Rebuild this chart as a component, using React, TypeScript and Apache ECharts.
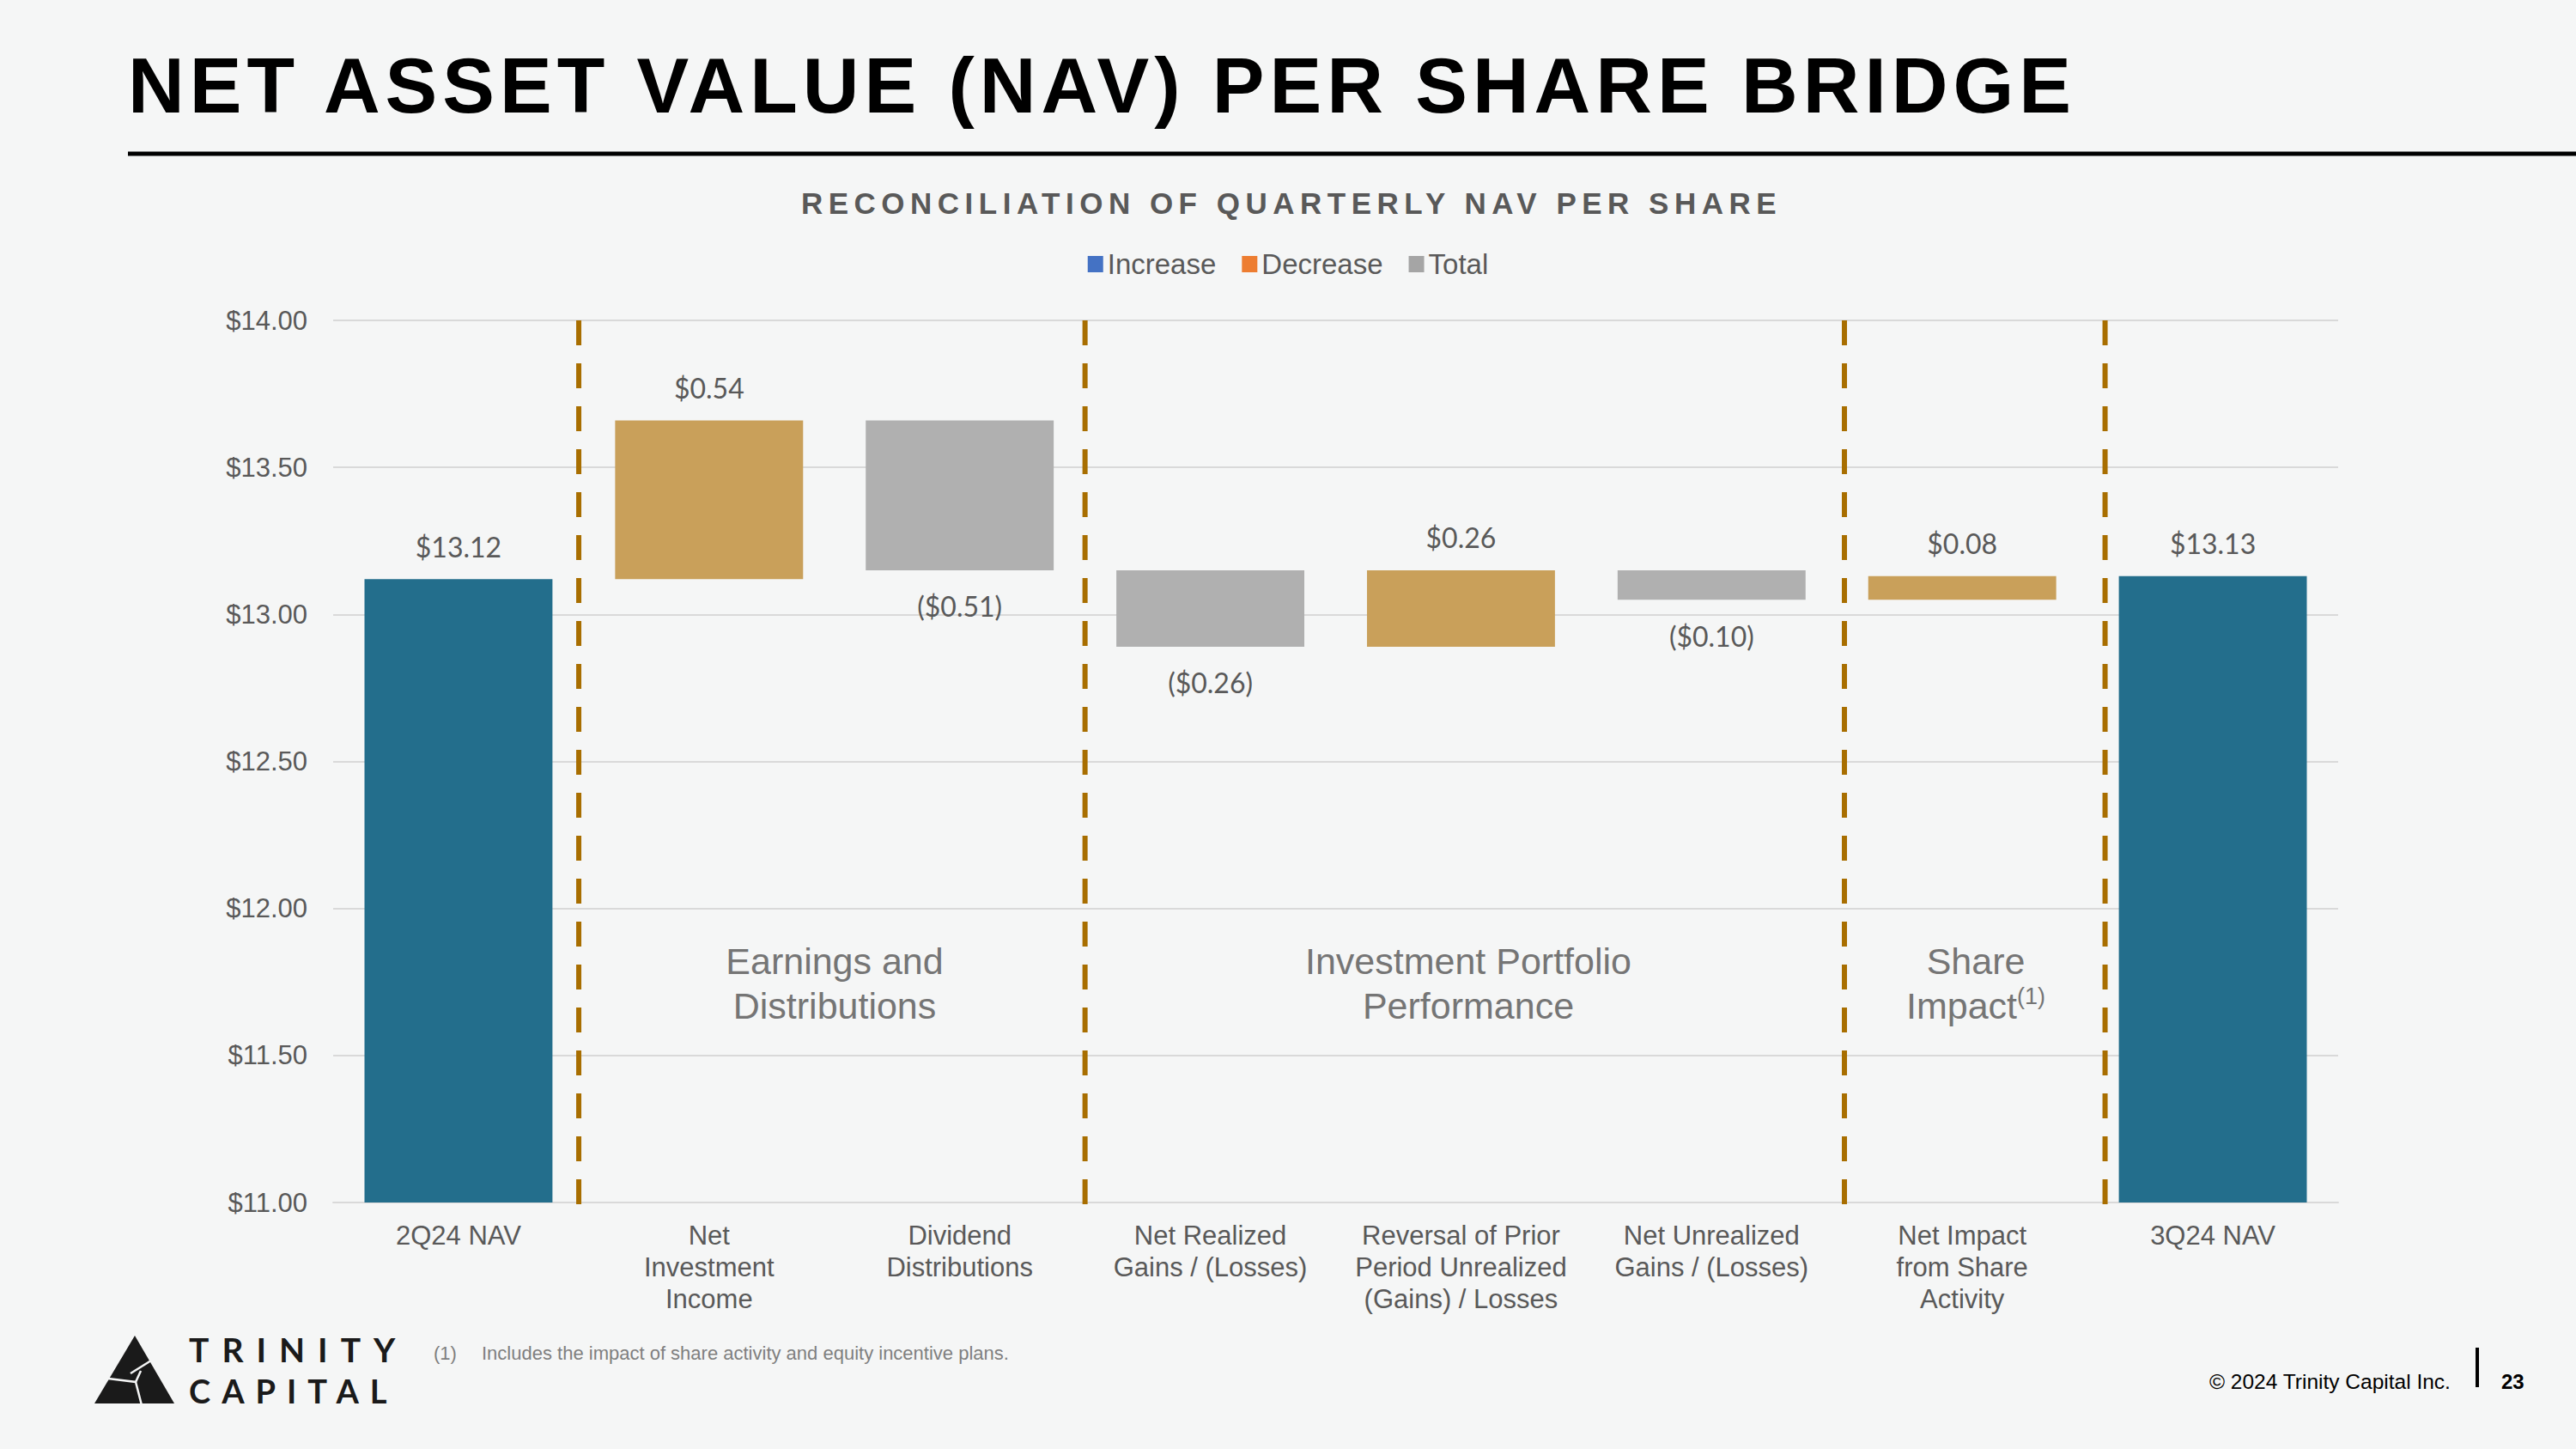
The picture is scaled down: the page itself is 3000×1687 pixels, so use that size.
import React, { useEffect, useRef } from 'react';
import * as echarts from 'echarts';

// ---------- data ----------
const categories = [
  '2Q24 NAV',
  'Net\nInvestment\nIncome',
  'Dividend\nDistributions',
  'Net Realized\nGains / (Losses)',
  'Reversal of Prior\nPeriod Unrealized\n(Gains) / Losses',
  'Net Unrealized\nGains / (Losses)',
  'Net Impact\nfrom Share\nActivity',
  '3Q24 NAV',
];
const startNav = 13.12;
const endNav = 13.13;
const changes = [0.54, -0.51, -0.26, 0.26, -0.1, 0.08];
const yMin = 11;
const yMax = 14;
const yInterval = 0.5;
const legendNames = ['Increase', 'Decrease', 'Total'];
const legendColors = ['#4472C4', '#ED7D31', '#A5A5A5'];
const barColors = ['#C9A05A', '#B0B0B0', '#236E8C'];
const dividerPositions = [0.48, 2.5, 5.53, 6.57];
const sectionTexts = ['Earnings and\nDistributions', 'Investment Portfolio\nPerformance', 'Share\nImpact{sup|(1)}'];

const TITLE = 'NET ASSET VALUE (NAV) PER SHARE BRIDGE';
const SUBTITLE = 'RECONCILIATION OF QUARTERLY NAV PER SHARE';
const FOOTNOTE_NUM = '(1)';
const FOOTNOTE = 'Includes the impact of share activity and equity incentive plans.';
const COPYRIGHT = '\u00A9 2024 Trinity Capital Inc.';
const PAGE = '23';

// ---------- build series arrays from data ----------
const n = categories.length;
const baseData: (number | string)[] = new Array(n).fill('-');
const incData: (number | string)[] = new Array(n).fill('-');
const decData: (number | string)[] = new Array(n).fill('-');
const totData: (number | string)[] = new Array(n).fill('-');
totData[0] = startNav;
totData[n - 1] = endNav;
let running = startNav;
changes.forEach((c, i) => {
  const idx = i + 1;
  const next = Math.round((running + c) * 100) / 100;
  baseData[idx] = Math.min(running, next);
  if (c >= 0) incData[idx] = c;
  else decData[idx] = Math.round(-c * 100) / 100;
  running = next;
});

const LABEL_FONT = 'Lato, "Open Sans", sans-serif';
const ARIAL = '"Liberation Sans", Arial, sans-serif';

const App: React.FC = () => {
  const ref = useRef<HTMLDivElement>(null);

  useEffect(() => {
    if (!ref.current) return;
    const chart = echarts.init(ref.current, undefined, { renderer: 'svg' });

    const labelBase = {
      show: true,
      fontFamily: LABEL_FONT,
      fontSize: 32,
      color: '#595959',
    };

    const option: any = {
      animation: false,
      backgroundColor: '#F5F6F6',
      title: {
        text: TITLE,
        left: 149,
        top: 54,
        padding: 0,
        textStyle: {
          fontFamily: ARIAL,
          fontWeight: 'bold',
          fontSize: 91,
          color: '#000000',
        },
      },
      legend: {
        top: 291,
        left: 'center',
        padding: 0,
        itemWidth: 18,
        itemHeight: 19,
        itemGap: 30,
        icon: 'rect',
        textStyle: { fontFamily: ARIAL, fontSize: 33, color: '#595959' },
        data: legendNames.map((name, i) => ({ name, itemStyle: { color: legendColors[i] } })),
      },
      grid: { left: 388, right: 277, top: 373, bottom: 287, containLabel: false },
      xAxis: [
        {
          type: 'category',
          data: categories,
          axisTick: { show: false },
          axisLine: { show: true, lineStyle: { color: '#D9D9D9', width: 2 } },
          axisLabel: {
            interval: 0,
            margin: 20,
            fontFamily: ARIAL,
            fontSize: 31,
            lineHeight: 37,
            color: '#595959',
            align: 'center',
          },
        },
        {
          type: 'value',
          min: -0.5,
          max: n - 0.5,
          show: false,
        },
      ],
      yAxis: {
        type: 'value',
        min: yMin,
        max: yMax,
        interval: yInterval,
        axisLine: { show: false },
        axisTick: { show: false },
        splitLine: { lineStyle: { color: '#D9D9D9', width: 2 } },
        axisLabel: {
          margin: 30,
          fontFamily: ARIAL,
          fontSize: 31,
          color: '#595959',
          formatter: (v: number) => '$' + v.toFixed(2),
        },
      },
      series: [
        {
          name: 'base',
          type: 'bar',
          stack: 'w',
          barWidth: '75%',
          data: baseData,
          itemStyle: { color: 'rgba(0,0,0,0)' },
          silent: true,
        },
        {
          name: 'Increase',
          type: 'bar',
          stack: 'w',
          barWidth: '75%',
          data: incData,
          itemStyle: { color: barColors[0] },
          label: {
            ...labelBase,
            position: 'top',
            distance: 22,
            formatter: (p: any) => '$' + Number(p.value).toFixed(2),
          },
        },
        {
          name: 'Decrease',
          type: 'bar',
          stack: 'w',
          barWidth: '75%',
          data: decData,
          itemStyle: { color: barColors[1] },
          label: {
            ...labelBase,
            position: 'bottom',
            distance: 26,
            formatter: (p: any) => '($' + Number(p.value).toFixed(2) + ')',
          },
        },
        {
          name: 'Total',
          type: 'bar',
          stack: 'w',
          barWidth: '75%',
          data: totData,
          itemStyle: { color: barColors[2] },
          label: {
            ...labelBase,
            position: 'top',
            distance: 22,
            formatter: (p: any) => '$' + Number(p.value).toFixed(2),
          },
        },
        {
          name: 'dividers',
          type: 'custom',
          xAxisIndex: 1,
          yAxisIndex: 0,
          silent: true,
          z: 5,
          clip: false,
          encode: { x: 0, y: 1 },
          data: dividerPositions.map((v) => [v, yMax]),
          renderItem: (params: any, api: any) => {
            const x = api.value(0);
            const a = api.coord([x, yMax]);
            const b = api.coord([x, yMin - 0.05]);
            return {
              type: 'line',
              shape: { x1: a[0], y1: a[1], x2: b[0], y2: b[1] },
              style: { stroke: '#A86E00', lineWidth: 6, lineDash: [29, 21] },
            };
          },
        },
      ],
      graphic: [
        // rule under title
        {
          type: 'line',
          shape: { x1: 149, y1: 179, x2: 3000, y2: 179 },
          style: { stroke: '#000000', lineWidth: 5 },
        },
        // subtitle
        {
          type: 'text',
          style: {
            x: 1504,
            y: 236,
            text: SUBTITLE,
            align: 'center',
            verticalAlign: 'middle',
            fontFamily: ARIAL,
            fontWeight: 'bold',
            fontSize: 35,
            fill: '#595959',
          },
        },
        // section labels
        {
          type: 'text',
          style: {
            x: 972, y: 1145, text: sectionTexts[0], align: 'center', verticalAlign: 'middle',
            fontFamily: ARIAL, fontSize: 43, lineHeight: 52, fill: '#757575',
          },
        },
        {
          type: 'text',
          style: {
            x: 1710, y: 1145, text: sectionTexts[1], align: 'center', verticalAlign: 'middle',
            fontFamily: ARIAL, fontSize: 43, lineHeight: 52, fill: '#757575',
          },
        },
        {
          type: 'text',
          style: {
            x: 2301, y: 1145, text: sectionTexts[2], align: 'center', verticalAlign: 'middle',
            fontFamily: ARIAL, fontSize: 43, lineHeight: 52, fill: '#757575',
            rich: {
              sup: { fontFamily: ARIAL, fontSize: 27, lineHeight: 52, fill: '#757575', padding: [0, 0, 22, 0] },
            },
          },
        },
        // logo mark
        {
          type: 'polygon',
          shape: { points: [[157, 1555], [110, 1634], [203, 1634]] },
          style: { fill: '#1A1A1A' },
        },
        {
          type: 'polyline',
          shape: { points: [[118, 1604], [158, 1609], [165, 1636]] },
          style: { stroke: '#F5F6F6', lineWidth: 2.5, fill: null },
        },
        {
          type: 'line',
          shape: { x1: 152, y1: 1599, x2: 176, y2: 1584 },
          style: { stroke: '#F5F6F6', lineWidth: 2.5 },
        },
        {
          type: 'line',
          shape: { x1: 158, y1: 1609, x2: 164, y2: 1596 },
          style: { stroke: '#F5F6F6', lineWidth: 2.5 },
        },
        {
          type: 'text',
          style: {
            x: 220, y: 1571, text: 'TRINITY', align: 'left', verticalAlign: 'middle',
            fontFamily: 'Lato, sans-serif', fontWeight: 'bold', fontSize: 39, fill: '#1A1A1A',
          },
        },
        {
          type: 'text',
          style: {
            x: 220, y: 1619, text: 'CAPITAL', align: 'left', verticalAlign: 'middle',
            fontFamily: 'Lato, sans-serif', fontWeight: 'bold', fontSize: 38, fill: '#1A1A1A',
          },
        },
        // footnote
        {
          type: 'text',
          style: {
            x: 505, y: 1575, text: FOOTNOTE_NUM, align: 'left', verticalAlign: 'middle',
            fontFamily: ARIAL, fontSize: 22, fill: '#7F7F7F',
          },
        },
        {
          type: 'text',
          style: {
            x: 561, y: 1575, text: FOOTNOTE, align: 'left', verticalAlign: 'middle',
            fontFamily: ARIAL, fontSize: 22, fill: '#7F7F7F',
          },
        },
        // copyright & page
        {
          type: 'text',
          style: {
            x: 2573, y: 1608, text: COPYRIGHT, align: 'left', verticalAlign: 'middle',
            fontFamily: ARIAL, fontSize: 24.5, fill: '#000000',
          },
        },
        {
          type: 'rect',
          shape: { x: 2883, y: 1569, width: 4, height: 46 },
          style: { fill: '#000000' },
        },
        {
          type: 'text',
          style: {
            x: 2913, y: 1608, text: PAGE, align: 'left', verticalAlign: 'middle',
            fontFamily: ARIAL, fontWeight: 'bold', fontSize: 24, fill: '#000000',
          },
        },
      ],
    };

    chart.setOption(option);
    return () => chart.dispose();
  }, []);

  return (
    <>
      <style>{`
        body { margin: 0; }
        .navchart text[style*="91px"] { letter-spacing: 6px; }
        .navchart text[style*="35px"] { letter-spacing: 6.5px; }
        .navchart text[style*="39px"] { letter-spacing: 15px; }
        .navchart text[style*="38px"] { letter-spacing: 13px; }
      `}</style>
      <div
        ref={ref}
        className="navchart"
        style={{ position: 'absolute', left: 0, top: 0, width: 3000, height: 1687 }}
      />
    </>
  );
};

export default App;
